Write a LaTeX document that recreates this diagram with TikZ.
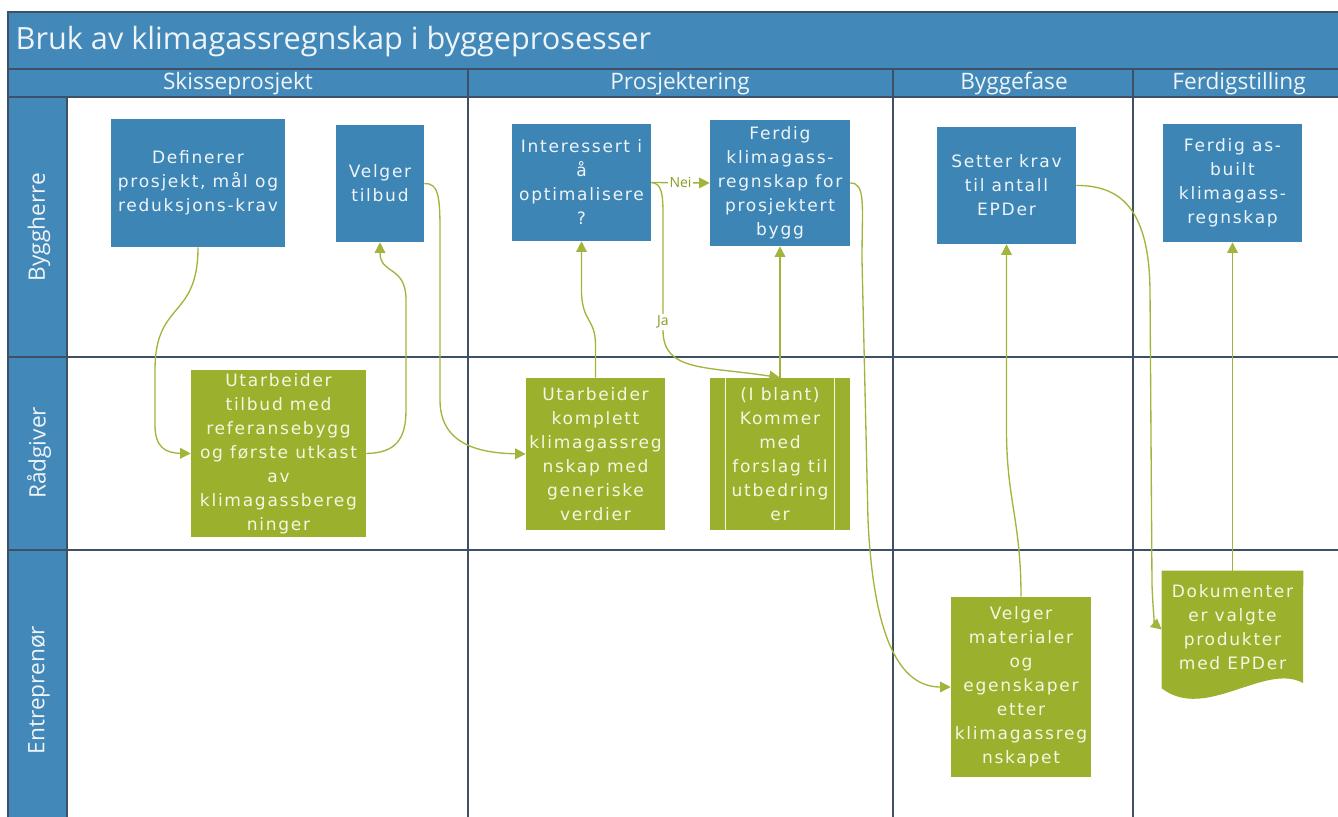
\documentclass[tikz,border=0pt]{standalone}
\usepackage{fontspec}
\setmainfont{Open Sans}
\newfontfamily\boxfont{DejaVu Sans}[LetterSpace=10]
\usetikzlibrary{arrows.meta}
\definecolor{hdrblue}{HTML}{4288B8}
\definecolor{boxblue}{HTML}{3D85B5}
\definecolor{boxgreen}{HTML}{9BB02D}
\definecolor{flowc}{HTML}{A4B33C}
\definecolor{gridc}{HTML}{3E5066}
\definecolor{bluetext}{HTML}{EEF4F8}
\definecolor{greentext}{HTML}{F4F7E2}
\definecolor{labelc}{HTML}{8A9A25}
\tikzset{
  sz/.style 2 args={minimum width=#1*0.75pt, minimum height=#2*0.75pt},
  boxtxt/.style={draw=none, align=center, inner sep=0pt,
    font=\boxfont\fontsize{12.8}{18}\selectfont},
  bluebox/.style={boxtxt, fill=boxblue, text=bluetext},
  greenbox/.style={boxtxt, fill=boxgreen, text=greentext},
  flow/.style={draw=flowc, line width=1pt,
    -{Triangle[length=8pt,width=8pt,fill=flowc]}},
  flowlabel/.style={fill=white, inner sep=1pt, text=labelc,
    font=\fontsize{10.5}{12}\selectfont},
  gridline/.style={draw=gridc, line width=1.1pt},
  phase/.style={text=bluetext, font=\fontsize{17}{20}\selectfont},
  lane/.style={text=bluetext, rotate=90, font=\fontsize{17}{20}\selectfont}
}
\begin{document}
\begin{tikzpicture}[x=0.75pt,y=-0.75pt]
\useasboundingbox (0,0) rectangle (1338,817);
\begin{scope}
\clip (0,0) rectangle (1338,817);
% title bar, phase header row and lane header column
\fill[hdrblue] (8,12) rectangle (1350,97);
\fill[hdrblue] (8,97) rectangle (67,830);
\draw[gridline] (8,69) -- (1350,69);
\draw[gridline] (8,97) -- (1350,97);
\draw[gridline] (67,97) -- (67,830);
\draw[gridline] (8,357) -- (1350,357);
\draw[gridline] (8,550) -- (1350,550);
\draw[gridline] (468,69) -- (468,830);
\draw[gridline] (893,69) -- (893,830);
\draw[gridline] (1133,69) -- (1133,830);
\draw[gridline] (8,12) rectangle (1350,830);

\node[anchor=west, text=bluetext, font=\fontsize{23}{26}\selectfont] (title) at (11,42)
  {Bruk av klimagassregnskap i byggeprosesser};
\node[phase] (ph1) at (238,84) {Skisseprosjekt};
\node[phase] (ph2) at (680,84) {Prosjektering};
\node[phase] (ph3) at (1014,84) {Byggefase};
\node[phase] (ph4) at (1239,84) {Ferdigstilling};
\node[lane] (ln1) at (39,227) {Byggherre};
\node[lane] (ln2) at (39,453) {Rådgiver};
\node[lane] (ln3) at (39,690) {Entreprenør};
\end{scope}

% process boxes
\node[bluebox, sz={174}{128}] (def) at (198,183)
  {Definerer\\prosjekt, mål og\\reduksjons-krav};
\node[bluebox, sz={88}{117}] (velg) at (380,183.5) {Velger\\tilbud};
\node[bluebox, sz={139}{117}] (int) at (581.5,182.5)
  {Interessert i\\å\\optimalisere\\?};
\node[bluebox, sz={140}{126}] (ferd) at (780,183)
  {Ferdig\\klimagass-\\regnskap for\\prosjektert\\bygg};
\node[bluebox, sz={139}{117}] (sett) at (1006.5,185.5)
  {Setter krav\\til antall\\EPDer};
\node[bluebox, sz={139}{118}] (asb) at (1232.5,183)
  {Ferdig as-\\built\\klimagass-\\regnskap};
\node[greenbox, sz={175}{167}] (utt) at (278.5,453.5)
  {Utarbeider\\tilbud med\\referansebygg\\og første utkast\\av\\klimagassbereg\\ninger};
\node[greenbox, sz={139}{152}] (utk) at (595.5,454)
  {Utarbeider\\komplett\\klimagassreg\\nskap med\\generiske\\verdier};
\node[greenbox, sz={140}{152}] (ibl) at (780,454)
  {(I blant)\\Kommer\\med\\forslag til\\utbedring\\er};
\draw[greentext, line width=1pt]
  ([xshift=12pt]ibl.north west) -- ([xshift=12pt]ibl.south west)
  ([xshift=-12pt]ibl.north east) -- ([xshift=-12pt]ibl.south east);
\node[greenbox, sz={140}{180}] (vmat) at (1021,687)
  {Velger\\materialer\\og\\egenskaper\\etter\\klimagassreg\\nskapet};
% document shape with a wavy lower edge
\node[boxtxt, text=greentext, sz={141}{117}] (dok) at (1232.5,629.5) {};
\fill[boxgreen] (dok.north west) -- (dok.north east) -- (1303,683)
  .. controls (1265,662) and (1205,722) .. (dok.south west) -- cycle;
\node[boxtxt, text=greentext] (doktxt) at (1232.5,627)
  {Dokumenter\\er valgte\\produkter\\med EPDer};

% connectors
\draw[flow] (def.south) .. controls (198,320) and (155,300) .. (155,370)
  -- (155,425) .. controls (155,447) and (165,453) .. (utt.west);
\draw[flow] (utt.east) .. controls (395,453) and (406,440) .. (406,410)
  -- (406,300) .. controls (406,265) and (380,275) .. (velg.south);
\draw[flow] (velg.east) .. controls (438,183) and (440,195) .. (440,230)
  -- (440,400) .. controls (440,445) and (480,453) .. (utk.west);
\draw[flow] (utk.north) -- (595.5,345) .. controls (595.5,318) and (581.5,322) .. (581.5,290)
  -- (int.south);
\draw[flow] (int.east) -- (ferd.west) node[flowlabel, pos=0.5] (nei) {Nei};
\draw[flow] (int.east) .. controls (662,183) and (663,195) .. (663,215)
  -- (663,322) node[flowlabel] (ja) {Ja}
  -- (663,330) .. controls (663,372) and (705,366) .. (ibl.north);
\draw[flow] (ibl.north) -- (ferd.south);
\draw[flow] (ferd.east) .. controls (866,183) and (862,205) .. (862,260)
  -- (868,520) .. controls (874,650) and (905,687) .. (vmat.west);
\draw[flow] (vmat.north) .. controls (1021,520) and (1006.5,500) .. (1006.5,430)
  -- (sett.south);
\draw[flow] (sett.east) .. controls (1125,185) and (1149,215) .. (1150,290)
  -- (1152,585) .. controls (1153,612) and (1155,624) .. (dok.west);
\draw[flow] (dok.north) -- (asb.south);
\end{tikzpicture}
\end{document}
